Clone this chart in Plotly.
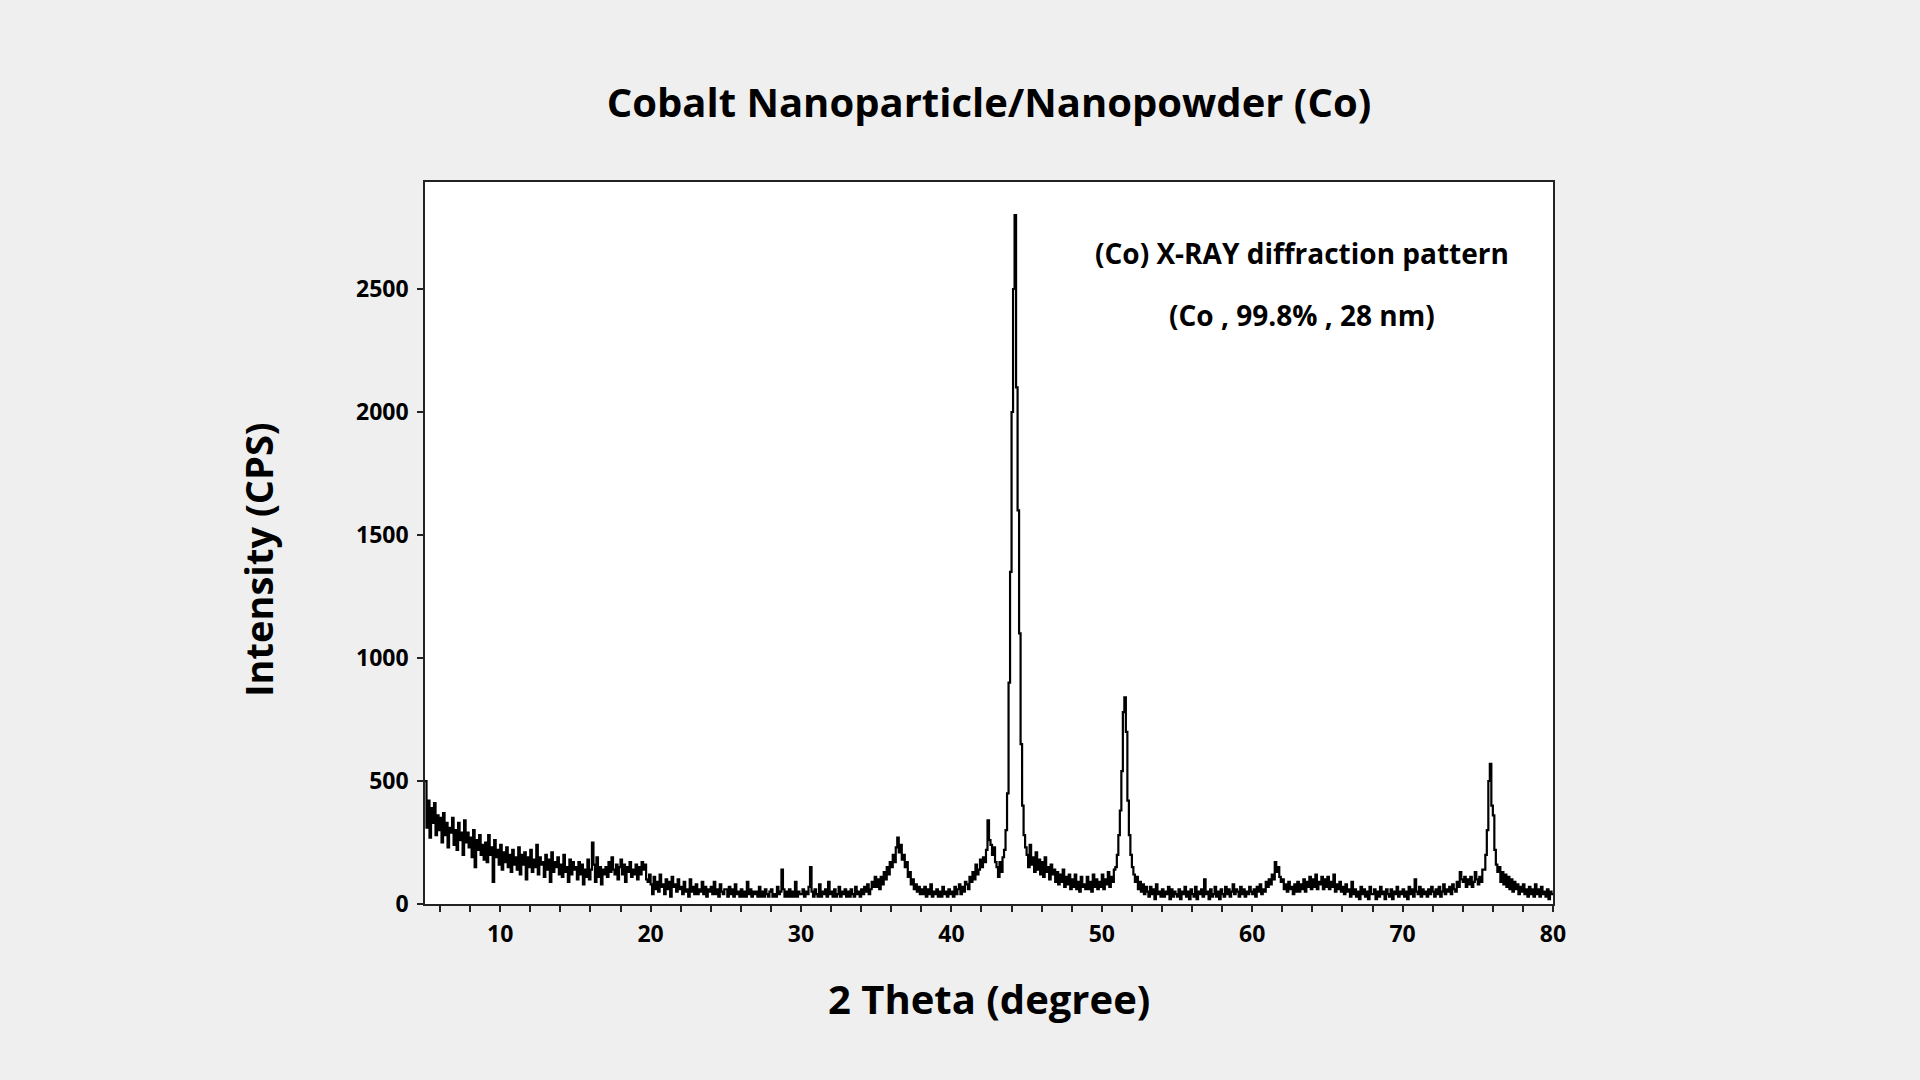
import plotly.graph_objects as go

# ---- data (2-theta grid 5.0 .. 80.0, step 0.1) ----
two_theta_start = 5.0
two_theta_step = 0.1

intensity_cps = [
    500, 310, 420, 270, 390, 330, 410, 280, 360, 300,   # 5
    350, 250, 370, 280, 330, 230, 310, 290, 350, 240,   # 6
    300, 220, 330, 260, 290, 200, 340, 250, 290, 230,   # 7
    270, 190, 300, 150, 260, 220, 280, 200, 240, 180,   # 8
    250, 170, 280, 200, 230, 90, 260, 190, 220, 160,    # 9
    240, 140, 210, 170, 230, 150, 200, 130, 220, 160,   # 10
    190, 140, 230, 120, 200, 160, 210, 100, 190, 150,   # 11
    220, 130, 180, 150, 240, 120, 190, 160, 170, 110,   # 12
    200, 140, 180, 90, 210, 130, 170, 150, 190, 120,    # 13
    160, 110, 200, 130, 150, 90, 180, 120, 170, 140,    # 14
    150, 100, 170, 120, 160, 80, 140, 110, 180, 100,    # 15
    140, 250, 160, 90, 190, 110, 150, 80, 140, 120,     # 16
    150, 110, 170, 130, 190, 140, 120, 160, 100, 150,   # 17
    180, 120, 160, 90, 150, 130, 170, 110, 140, 120,    # 18
    160, 100, 150, 120, 170, 140, 160, 100, 90, 120,    # 19
    80, 40, 110, 60, 90, 50, 120, 70, 80, 40,           # 20
    100, 60, 90, 30, 110, 70, 80, 50, 100, 60,          # 21
    70, 40, 90, 50, 60, 30, 100, 50, 70, 40,            # 22
    80, 40, 60, 50, 90, 40, 70, 30, 60, 50,             # 23
    70, 40, 90, 40, 60, 30, 80, 50, 40, 60,             # 24
    60, 30, 70, 40, 60, 30, 80, 40, 50, 30,             # 25
    60, 30, 50, 30, 90, 40, 60, 30, 50, 40,             # 26
    50, 30, 70, 30, 50, 30, 60, 40, 30, 50,             # 27
    60, 30, 40, 30, 70, 40, 50, 140, 60, 30,            # 28
    50, 30, 60, 30, 50, 30, 90, 30, 50, 40,             # 29
    40, 60, 30, 50, 40, 70, 150, 50, 30, 60,            # 30
    40, 30, 80, 30, 50, 40, 60, 30, 90, 40,             # 31
    50, 30, 60, 30, 40, 70, 30, 50, 40, 60,             # 32
    30, 50, 30, 60, 40, 30, 70, 40, 50, 30,             # 33
    60, 40, 70, 50, 80, 40, 60, 90, 70, 110,            # 34
    70, 100, 60, 110, 80, 130, 100, 150, 120, 170,      # 35
    150, 200, 170, 230, 270, 210, 240, 180, 200, 150,   # 36
    170, 110, 130, 80, 100, 60, 80, 50, 70, 40,         # 37
    60, 40, 70, 30, 60, 40, 80, 30, 50, 40,             # 38
    60, 30, 50, 30, 70, 40, 50, 30, 60, 40,             # 39
    50, 30, 70, 40, 60, 80, 40, 70, 50, 90,             # 40
    80, 60, 110, 90, 130, 100, 160, 120, 140, 180,      # 41
    150, 190, 170, 220, 340, 260, 240, 200, 230, 170,   # 42
    150, 110, 170, 130, 190, 220, 300, 450, 900, 1350,  # 43
    2000, 2500, 2800, 2100, 1600, 1100, 650, 400, 280, 230,  # 44
    200, 150, 240, 160, 190, 130, 210, 140, 180, 120,   # 45
    170, 110, 190, 130, 150, 100, 160, 120, 140, 90,    # 46
    130, 80, 120, 90, 140, 70, 110, 80, 120, 60,        # 47
    100, 70, 120, 60, 90, 50, 110, 70, 80, 60,          # 48
    110, 60, 90, 50, 120, 70, 100, 60, 90, 70,          # 49
    120, 60, 100, 80, 130, 70, 110, 90, 140, 150,       # 50
    200, 280, 380, 540, 780, 840, 700, 420, 280, 200,   # 51
    150, 120, 90, 110, 60, 90, 50, 80, 40, 70,          # 52
    50, 30, 70, 40, 60, 20, 80, 40, 50, 30,             # 53
    60, 30, 50, 40, 70, 20, 60, 30, 50, 40,             # 54
    30, 60, 20, 50, 40, 70, 30, 50, 20, 60,             # 55
    40, 30, 70, 20, 50, 40, 60, 30, 100, 40,            # 56
    50, 20, 60, 30, 40, 70, 30, 50, 20, 60,             # 57
    40, 30, 70, 40, 60, 30, 50, 80, 40, 60,             # 58
    50, 30, 70, 40, 60, 30, 50, 40, 70, 50,             # 59
    40, 60, 30, 70, 50, 80, 40, 60, 50, 90,             # 60
    70, 100, 80, 120, 100, 170, 130, 150, 110, 90,      # 61
    100, 60, 80, 50, 90, 60, 70, 40, 80, 50,            # 62
    90, 50, 80, 60, 100, 50, 90, 70, 110, 60,           # 63
    100, 70, 120, 60, 90, 80, 110, 60, 100, 70,         # 64
    110, 60, 90, 70, 120, 50, 80, 60, 90, 50,           # 65
    70, 40, 80, 50, 60, 30, 90, 40, 60, 30,             # 66
    50, 20, 70, 40, 60, 30, 50, 20, 70, 40,             # 67
    40, 60, 20, 50, 30, 70, 40, 50, 20, 60,             # 68
    40, 30, 60, 20, 50, 40, 70, 30, 50, 40,             # 69
    60, 30, 50, 20, 70, 40, 60, 30, 100, 50,            # 70
    40, 70, 30, 60, 40, 50, 30, 60, 40, 70,             # 71
    50, 30, 60, 40, 70, 30, 50, 80, 40, 60,             # 72
    50, 70, 40, 80, 60, 50, 90, 70, 130, 100,           # 73
    90, 110, 70, 100, 80, 110, 70, 90, 130, 100,        # 74
    80, 110, 90, 140, 140, 200, 300, 500, 570, 400,     # 75
    360, 220, 160, 130, 150, 90, 130, 80, 120, 70,      # 76
    110, 60, 100, 50, 90, 60, 80, 40, 70, 50,           # 77
    80, 40, 60, 30, 70, 40, 60, 30, 80, 40,             # 78
    60, 30, 70, 40, 50, 30, 60, 20, 50, 40,             # 79
    40,                                                 # 80
]

two_theta = [round(two_theta_start + i * two_theta_step, 1) for i in range(len(intensity_cps))]

x_tick_values = [10, 20, 30, 40, 50, 60, 70, 80]
y_tick_values = [0, 500, 1000, 1500, 2000, 2500]

title_text = "Cobalt Nanoparticle/Nanopowder (Co)"
x_title = "2 Theta (degree)"
y_title = "Intensity (CPS)"
note_line1 = "(Co) X-RAY diffraction pattern"
note_line2 = "(Co , 99.8% , 28 nm)"

FONT = "Open Sans"

fig = go.Figure()
fig.add_trace(go.Scatter(
    x=two_theta, y=intensity_cps, mode="lines",
    line=dict(color="#000000", width=2.2, shape="hv"),
    showlegend=False, hoverinfo="x+y",
))

axis_common = dict(
    showline=True, linecolor="#222222", linewidth=1.5, mirror=True,
    ticks="outside", ticklen=6, tickwidth=1.5, tickcolor="#222222",
    showgrid=False, zeroline=False,
    tickfont=dict(family=FONT, size=23, color="#000000", weight="bold"),
)

fig.update_xaxes(
    range=[5, 80], tickvals=x_tick_values,
    minor=dict(dtick=2, tick0=0, ticks="outside", ticklen=6, tickwidth=1.5, tickcolor="#222222", showgrid=False),
    ticklabelstandoff=3,
    **axis_common,
)
fig.update_yaxes(
    range=[0, 2935], tickvals=y_tick_values,
    ticklabelstandoff=4,
    **axis_common,
)

fig.update_layout(
    width=1920, height=1080,
    margin=dict(l=425, r=367, t=182, b=176),
    paper_bgcolor="#efefef", plot_bgcolor="#ffffff",
    title=dict(text=title_text, x=0.5, xref="paper", y=1 - 103 / 1080, yref="container",
               xanchor="center", yanchor="middle",
               font=dict(family=FONT, size=40, color="#000000", weight="bold")),
    annotations=[
        dict(text=x_title, xref="paper", yref="paper", x=0.5, y=(904 - 998) / 722,
             showarrow=False, xanchor="center", yanchor="middle",
             font=dict(family=FONT, size=40, color="#000000", weight="bold")),
        dict(text=y_title, xref="paper", yref="paper", x=(258 - 425) / 1128, y=(904 - 560) / 722,
             showarrow=False, xanchor="center", yanchor="middle", textangle=-90,
             font=dict(family=FONT, size=38, color="#000000", weight="bold")),
        dict(text=note_line1, xref="paper", yref="paper", x=(1302 - 425) / 1128, y=(904 - 253) / 722,
             showarrow=False, xanchor="center", yanchor="middle",
             font=dict(family=FONT, size=28, color="#000000", weight="bold")),
        dict(text=note_line2, xref="paper", yref="paper", x=(1302 - 425) / 1128, y=(904 - 315) / 722,
             showarrow=False, xanchor="center", yanchor="middle",
             font=dict(family=FONT, size=28, color="#000000", weight="bold")),
    ],
)

fig.write_html("out.html")
